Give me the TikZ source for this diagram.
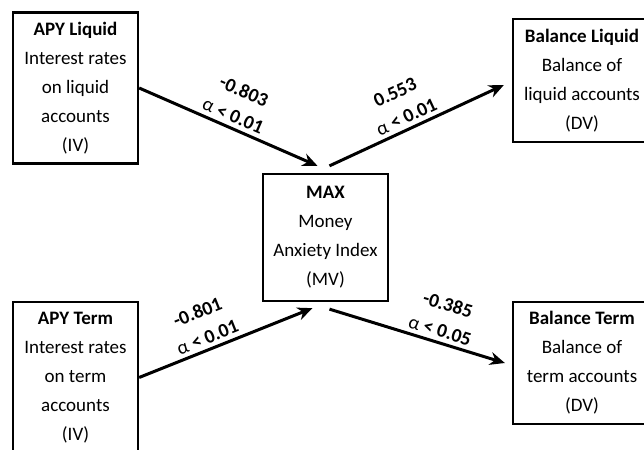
\documentclass[tikz,border=0pt]{standalone}
\usepackage{fontspec}
\setmainfont{Carlito}
\usetikzlibrary{arrows.meta}

\begin{document}
\begin{tikzpicture}[x=1pt,y=-1pt,
    box/.style={draw, line width=2.3pt, inner sep=0pt, align=center,
      font=\fontsize{19}{29}\selectfont},
    link/.style={line width=3pt, -{Stealth[length=15pt,width=13pt]}},
    weight/.style={sloped, above=3pt, inner sep=1pt, align=center,
      font=\fontsize{19.5}{27}\selectfont\bfseries}]
  \useasboundingbox (0,0) rectangle (644,449);
  \clip (0,0) rectangle (644,449);
  % variables
  \node[box, minimum width=125pt, minimum height=151pt] (apyl) at (75.5,88)
    {\textbf{APY Liquid}\\Interest rates\\on liquid\\accounts\\(IV)};
  \node[box, minimum width=125pt, minimum height=151pt] (apyt) at (75.5,377.5)
    {\textbf{APY Term}\\Interest rates\\on term\\accounts\\(IV)};
  \node[box, minimum width=125pt, minimum height=127pt] (max) at (325.5,237.5)
    {\textbf{MAX}\\Money\\Anxiety Index\\(MV)};
  \node[box, minimum width=138pt, minimum height=123pt] (ball) at (582,80.5)
    {\textbf{Balance Liquid}\\Balance of\\liquid accounts\\(DV)};
  \node[box, minimum width=138pt, minimum height=122pt] (balt) at (582,363)
    {\textbf{Balance Term}\\Balance of\\term accounts\\(DV)};
  % paths
  \draw[link] (apyl.east) -- ([xshift=-8pt,yshift=7pt]max.north)
    node[weight, pos=0.5] {-0.803\\{\mdseries α} < 0.01};
  \draw[link] ([xshift=4pt,yshift=7pt]max.north) -- ([xshift=-8pt,yshift=-4.5pt]ball.west)
    node[weight, pos=0.47] {0.553\\{\mdseries α} < 0.01};
  \draw[link] (apyt.east) -- ([xshift=-13pt,yshift=-6pt]max.south)
    node[weight, pos=0.42] {-0.801\\{\mdseries α} < 0.01};
  \draw[link] ([xshift=4pt,yshift=-7pt]max.south) -- ([xshift=-7pt]balt.west)
    node[weight, pos=0.61] {-0.385\\{\mdseries α} < 0.05};
\end{tikzpicture}
\end{document}
